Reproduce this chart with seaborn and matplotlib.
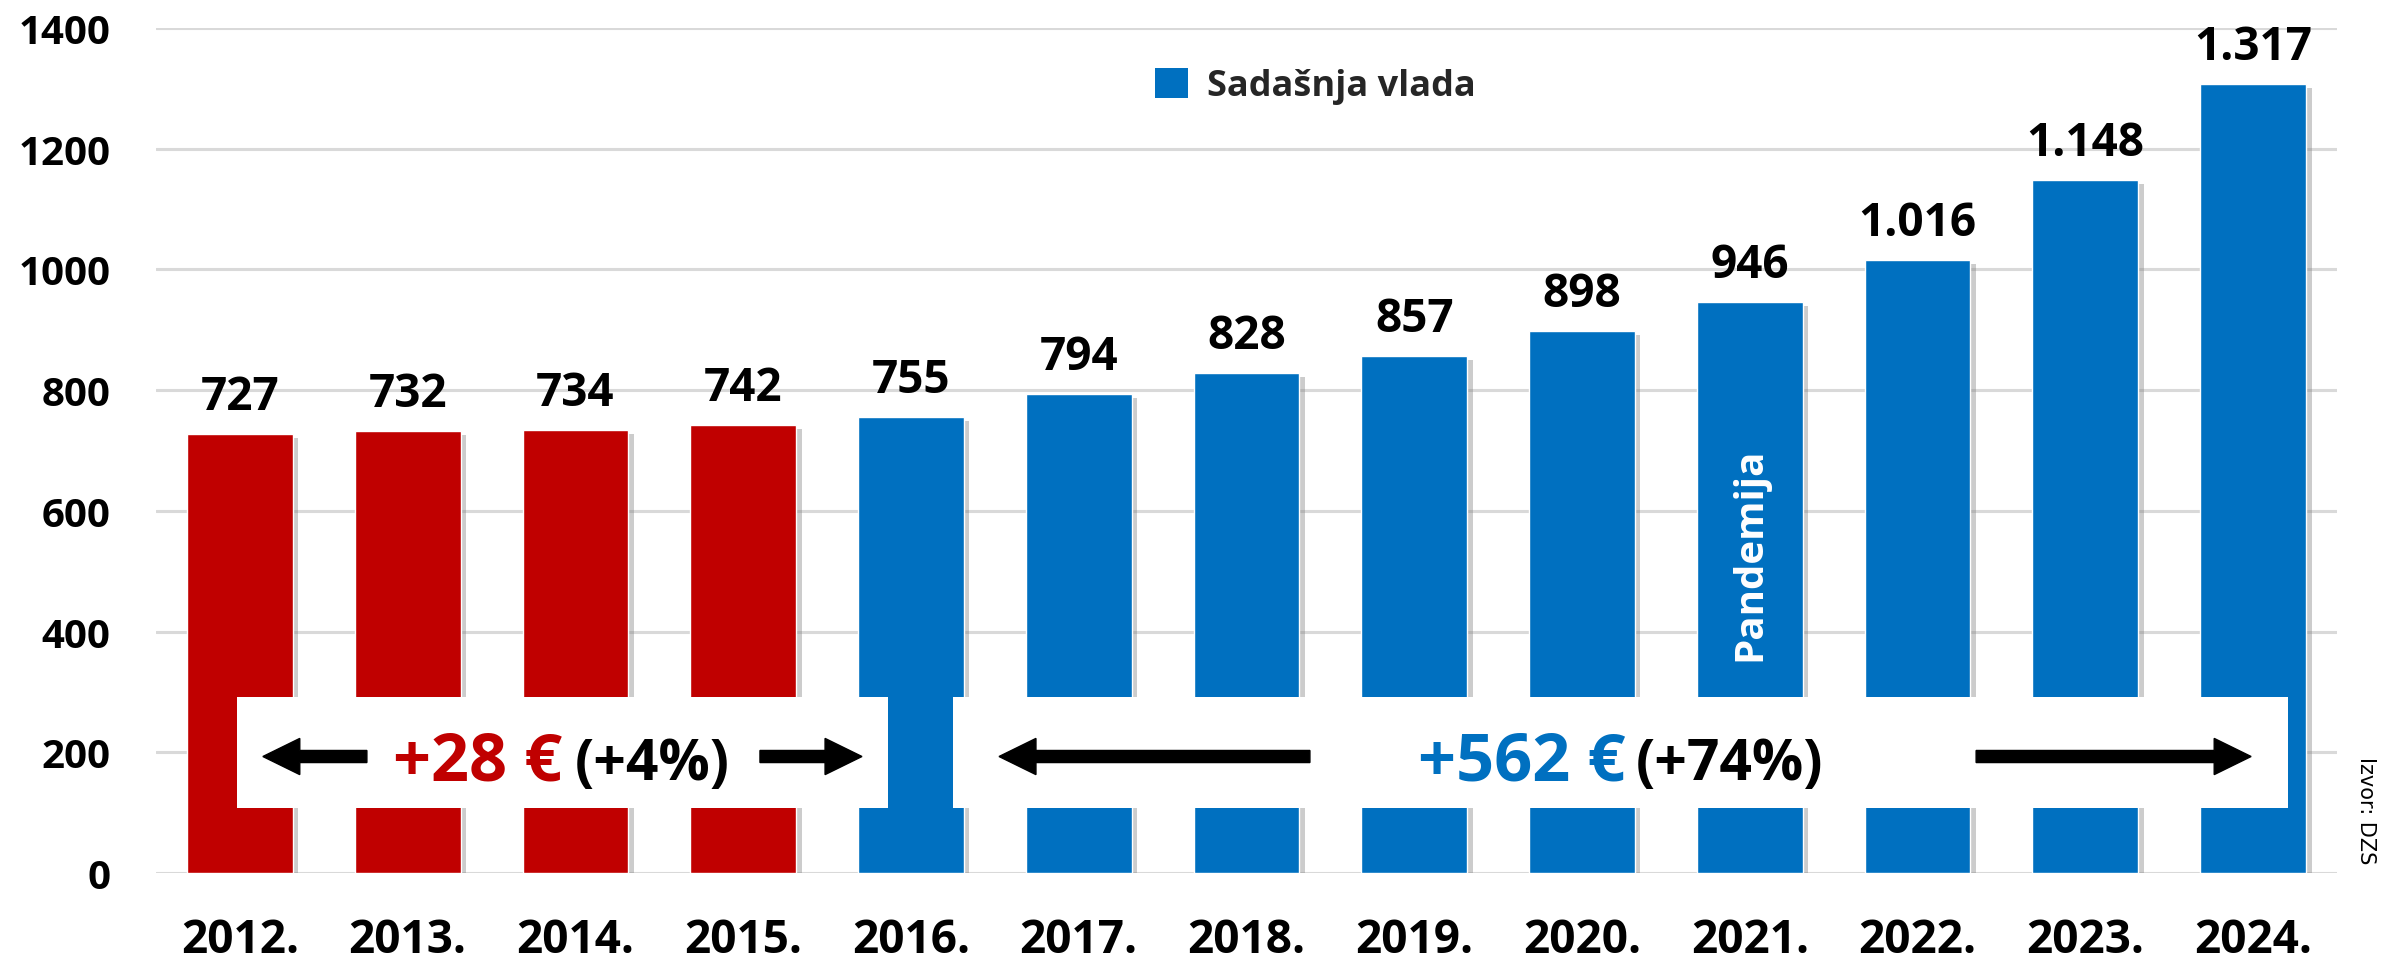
import matplotlib
matplotlib.use("Agg")
import matplotlib.pyplot as plt
import matplotlib.patheffects as pe
from matplotlib.patches import Rectangle, Patch
import seaborn as sns
import pandas as pd

# ---------------- data ----------------
years = ['2012.', '2013.', '2014.', '2015.', '2016.', '2017.', '2018.',
         '2019.', '2020.', '2021.', '2022.', '2023.', '2024.']
values = [727, 732, 734, 742, 755, 794, 828, 857, 898, 946, 1016, 1148, 1307]
value_labels = ['727', '732', '734', '742', '755', '794', '828', '857',
                '898', '946', '1.016', '1.148', '1.317']
government = ['Prejšnja vlada'] * 4 + ['Sadašnja vlada'] * 9
y_ticks = [0, 200, 400, 600, 800, 1000, 1200, 1400]

RED = '#C00000'
BLUE = '#0070C0'

df = pd.DataFrame({'leto': years, 'vrednost': values, 'vlada': government})

sns.set_theme(style='white')
plt.rcParams['font.family'] = ['Open Sans', 'DejaVu Sans']

fig = plt.figure(figsize=(23.82, 9.62), dpi=100)
ax = fig.add_axes([156 / 2382, (962 - 874) / 962, (2337 - 156) / 2382, (874 - 29) / 962])

sns.barplot(data=df, x='leto', y='vrednost', hue='vlada',
            palette={'Prejšnja vlada': RED, 'Sadašnja vlada': BLUE},
            dodge=False, width=0.63, saturation=1, legend=False, ax=ax)

for p in ax.patches:
    p.set_zorder(2)
    p.set_path_effects([pe.SimplePatchShadow(offset=(4, -3), shadow_rgbFace='#808080', alpha=0.4),
                        pe.Normal()])

ax.set_ylim(0, 1400)
ax.set_xlim(-0.5, len(years) - 0.5)
ax.set_yticks(y_ticks)
ax.set_xlabel('')
ax.set_ylabel('')
for s in ax.spines.values():
    s.set_visible(False)
ax.yaxis.grid(True, color='#D9D9D9', lw=2.2)
ax.set_axisbelow(True)
ax.tick_params(axis='x', length=0, pad=31, labelsize=33)
ax.tick_params(axis='y', length=0, pad=33, labelsize=29)
for lab in ax.get_xticklabels() + ax.get_yticklabels():
    lab.set_fontweight('bold')
    lab.set_color('black')

# value labels
for i, (v, t) in enumerate(zip(values, value_labels)):
    ax.annotate(t, xy=(i, v), xytext=(0, 18), textcoords='offset points',
                ha='center', va='baseline', fontsize=33, fontweight='bold',
                color='black', zorder=6, annotation_clip=False)

# Pandemija
ax.text(years.index('2021.'), 530, 'Pandemija', rotation=90, color='white',
        fontsize=29, fontweight='bold', ha='center', va='center', zorder=6)

# white annotation boxes
ax.add_patch(Rectangle((-0.018, 107), 3.881, 184, facecolor='white', edgecolor='none', zorder=3))
ax.add_patch(Rectangle((4.25, 107), 7.96, 184, facecolor='white', edgecolor='none', zorder=3))

# arrows
arrow_kw = dict(width=20, head_width=60, head_length=0.22, length_includes_head=True,
                color='black', zorder=4)
ay = 193
ax.arrow(0.757, ay, 0.137 - 0.757, 0, **arrow_kw)
ax.arrow(3.10, ay, 3.708 - 3.10, 0, **arrow_kw)
ax.arrow(6.378, ay, 4.525 - 6.378, 0, **arrow_kw)
ax.arrow(10.349, ay, 11.988 - 10.349, 0, **arrow_kw)

# texts in boxes
base = 155
ax.text(1.419, base, '+28 €', color=RED, fontsize=48, fontweight='bold',
        ha='center', va='baseline', zorder=5)
ax.text(2.46, base, '(+4%)', color='black', fontsize=41, fontweight='bold',
        ha='center', va='baseline', zorder=5)
ax.text(7.64, base, '+562 €', color=BLUE, fontsize=48, fontweight='bold',
        ha='center', va='baseline', zorder=5)
ax.text(8.88, base, '(+74%)', color='black', fontsize=41, fontweight='bold',
        ha='center', va='baseline', zorder=5)

# legend
leg = ax.legend(handles=[Patch(facecolor=BLUE, edgecolor='none', label='Sadašnja vlada')],
                loc='center left', bbox_to_anchor=(1155 / 2382, 1 - 87 / 962),
                bbox_transform=fig.transFigure, frameon=False, borderpad=0,
                borderaxespad=0, handlelength=0.9, handleheight=0.9,
                handletextpad=0.55, prop={'size': 26, 'weight': 'bold'})

# source
fig.text(2366 / 2382, 1 - 811 / 962, 'Izvor: DZS', rotation=270, ha='center', va='center',
         fontsize=15, family='DejaVu Sans', color='black')

fig.savefig('out.png', dpi=100, facecolor='white')
